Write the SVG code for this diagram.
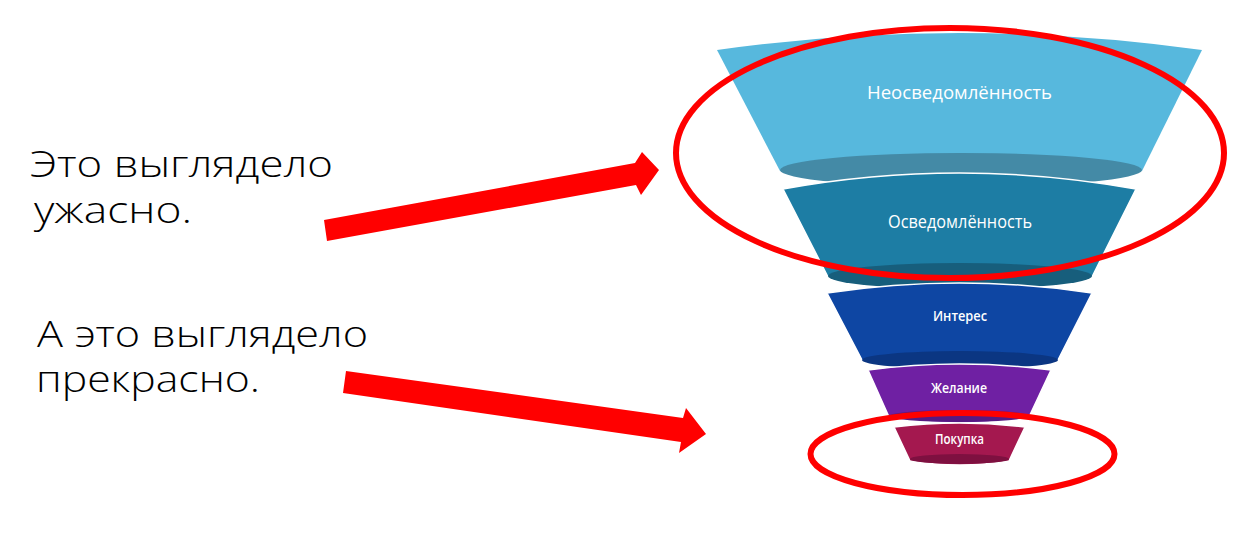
<svg xmlns="http://www.w3.org/2000/svg" width="1239" height="559" viewBox="0 0 1239 559">
<style>
.cap{font-family:"Open Sans","Noto Sans","DejaVu Sans",sans-serif;font-weight:300;font-size:36px;fill:#000}
.lbl{font-family:"Open Sans","Noto Sans","DejaVu Sans",sans-serif;fill:#fff;text-anchor:middle}
.big{font-size:18px;font-weight:500}
.sm{font-size:13.5px;font-weight:600}
.body{stroke:#fff;stroke-width:1.5}
.ring{fill:none;stroke:#ff0000;stroke-width:6}
.arrow{fill:#ff0000}
</style>
<rect width="1239" height="559" fill="#fff"/>
<g id="text-bad">
<text class="cap" x="30" y="177" textLength="303" lengthAdjust="spacingAndGlyphs">Это выглядело</text>
<text class="cap" x="34" y="223" textLength="158" lengthAdjust="spacingAndGlyphs">ужасно.</text>
</g>
<g id="text-good">
<text class="cap" x="37" y="347" textLength="331" lengthAdjust="spacingAndGlyphs">А это выглядело</text>
<text class="cap" x="36" y="392" textLength="224" lengthAdjust="spacingAndGlyphs">прекрасно.</text>
</g>
<g id="layer1">
<path fill="#57b8dd" d="M717,50 Q959.5,16 1202,50 L1142,171 Q961,205 780,171 Z"/>
<ellipse cx="961" cy="170" rx="181" ry="17" fill="#448aa6"/>
<text class="lbl big" x="959.5" y="99" textLength="185" lengthAdjust="spacingAndGlyphs">Неосведомлённость</text>
</g>
<g id="layer2">
<path class="body" fill="#1d7da4" d="M783,189 Q959.5,157 1136,189 L1092,277 Q960,303 828,277 Z"/>
<ellipse cx="960" cy="276" rx="132" ry="13" fill="#175e7c"/>
<text class="lbl big" x="960" y="228" textLength="144" lengthAdjust="spacingAndGlyphs">Осведомлённость</text>
</g>
<g id="layer3">
<path class="body" fill="#0e46a3" d="M827,293 Q959.5,273 1092,293 L1058,360 Q960,378 862,360 Z"/>
<ellipse cx="960" cy="360" rx="98" ry="9" fill="#0b3682"/>
<text class="lbl sm" x="960" y="321" textLength="54" lengthAdjust="spacingAndGlyphs">Интерес</text>
</g>
<g id="layer4">
<path class="body" fill="#6f20a3" d="M868,370 Q959.5,358 1051,370 L1029,417 Q959,429 889,417 Z"/>
<ellipse cx="959" cy="416" rx="70" ry="6" fill="#561a82"/>
<text class="lbl sm" x="959" y="393" textLength="56" lengthAdjust="spacingAndGlyphs">Желание</text>
</g>
<g id="layer5">
<path class="body" fill="#a4184f" d="M894,427 Q959.5,419 1025,427 L1009,461 Q960,469 910,461 Z"/>
<ellipse cx="959.5" cy="459" rx="49.5" ry="5" fill="#7e1040"/>
<text class="lbl sm" x="959.5" y="444" textLength="49" lengthAdjust="spacingAndGlyphs">Покупка</text>
</g>
<g id="connectors">
<ellipse class="ring" cx="950" cy="153" rx="274" ry="125"/>
<ellipse class="ring" cx="962.5" cy="454" rx="152" ry="41"/>
<polygon class="arrow" points="324,220 635,163 642,152 659,170 641,195 636,185 327,241"/>
<polygon class="arrow" points="346,371 683,418 686,408 706,434 679,453 681,442 343,393"/>
</g>
</svg>
